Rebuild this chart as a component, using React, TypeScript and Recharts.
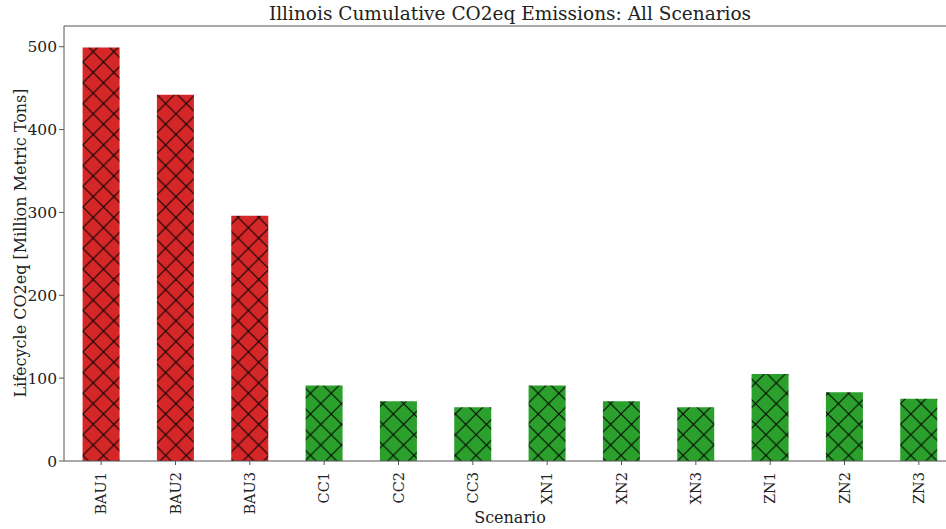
import React from "react";
import { BarChart, Bar, XAxis, YAxis, Cell, ReferenceLine } from "recharts";

const scenarios = ["BAU1", "BAU2", "BAU3", "CC1", "CC2", "CC3", "XN1", "XN2", "XN3", "ZN1", "ZN2", "ZN3"];
const emissions = [499, 442, 296, 91, 72, 65, 91, 72, 65, 105, 83, 75];
const groups = ["bau", "bau", "bau", "cc", "cc", "cc", "xn", "xn", "xn", "zn", "zn", "zn"];
const yTicks = [0, 100, 200, 300, 400, 500];

const data = scenarios.map((s, i) => ({ scenario: s, value: emissions[i], group: groups[i] }));

const FONT = "'DejaVu Serif', serif";
const AXIS = "#555";
const HATCH = 20.7;

function XTick(props: any) {
  const { x, y, payload } = props;
  return (
    <text
      x={x}
      y={y + 5}
      transform={`rotate(-90 ${x} ${y + 5})`}
      textAnchor="end"
      dominantBaseline="central"
      fontFamily={FONT}
      fontSize={14.5}
      fill="#222"
    >
      {payload.value}
    </text>
  );
}

function Hatch({ id, color }: { id: string; color: string }) {
  return (
    <pattern id={id} patternUnits="userSpaceOnUse" width={HATCH} height={HATCH}>
      <rect width={HATCH} height={HATCH} fill={color} />
      <path d={`M0 0 L${HATCH} ${HATCH} M${HATCH} 0 L0 ${HATCH}`} stroke="#000" strokeWidth={1} />
    </pattern>
  );
}

export default function App() {
  return (
    <div
      style={{
        position: "absolute",
        left: 0,
        top: 0,
        width: 946,
        height: 529,
        overflow: "hidden",
        background: "#fff",
      }}
    >
      <svg width={0} height={0} style={{ position: "absolute" }}>
        <defs>
          <Hatch id="hatch-red" color="#d62728" />
          <Hatch id="hatch-green" color="#2ca02c" />
        </defs>
      </svg>
      <div
        style={{
          position: "absolute",
          left: 64,
          width: 892,
          top: 3,
          textAlign: "center",
          fontFamily: FONT,
          fontSize: 18.5,
          color: "#222",
        }}
      >
        Illinois Cumulative CO2eq Emissions: All Scenarios
      </div>
      <div
        style={{
          position: "absolute",
          left: 20,
          top: 243,
          transform: "translate(-50%, -50%) rotate(-90deg)",
          whiteSpace: "nowrap",
          fontFamily: FONT,
          fontSize: 16,
          color: "#222",
        }}
      >
        Lifecycle CO2eq [Million Metric Tons]
      </div>
      <div
        style={{
          position: "absolute",
          left: 64,
          width: 892,
          top: 508,
          textAlign: "center",
          fontFamily: FONT,
          fontSize: 16,
          color: "#222",
        }}
      >
        Scenario
      </div>
      <BarChart
        width={957}
        height={529}
        data={data}
        margin={{ top: 26, right: 1, bottom: 0, left: 0 }}
        barCategoryGap="25%"
      >
        <XAxis
          dataKey="scenario"
          height={68}
          interval={0}
          tick={<XTick />}
          tickSize={4}
          stroke={AXIS}
          tickLine={{ stroke: AXIS }}
        />
        <YAxis
          width={64}
          domain={[0, 525]}
          ticks={yTicks}
          tickSize={5}
          stroke={AXIS}
          tick={{ fontFamily: FONT, fontSize: 15.5, fill: "#222" }}
        />
        <ReferenceLine y={525} stroke={AXIS} strokeWidth={1} ifOverflow="extendDomain" />
        <Bar dataKey="value" isAnimationActive={false}>
          {data.map((d) => (
            <Cell key={d.scenario} fill={d.group === "bau" ? "url(#hatch-red)" : "url(#hatch-green)"} />
          ))}
        </Bar>
      </BarChart>
    </div>
  );
}
